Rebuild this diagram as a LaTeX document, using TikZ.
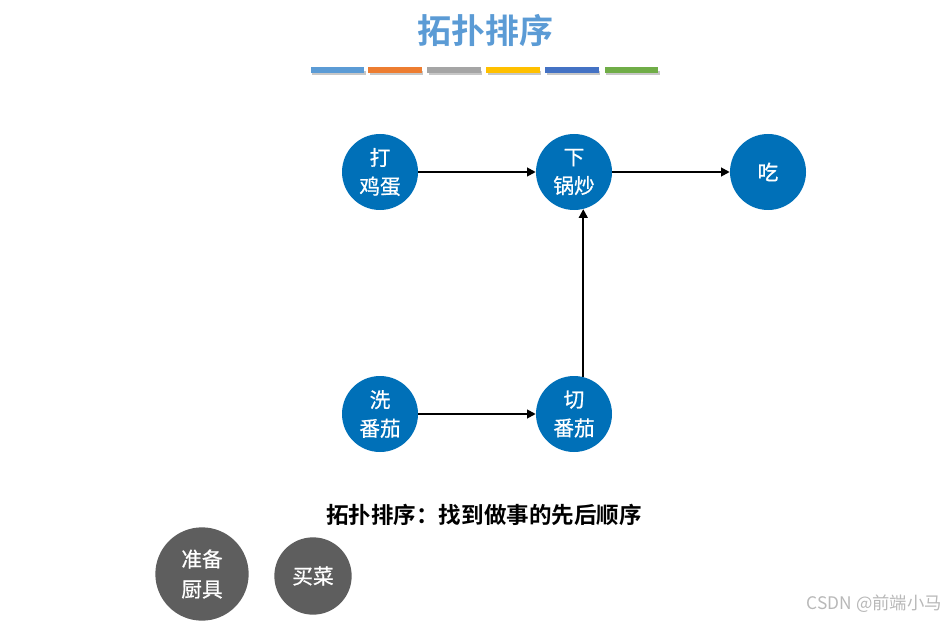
\documentclass[tikz,border=0pt]{standalone}
\usepackage{fontspec}
\setmainfont{Noto Sans CJK SC}
\newfontfamily\cjkb{Noto Sans CJK SC}[BoldFont=* Bold]
\newfontfamily\cjkm{Noto Sans CJK SC}[BoldFont={Noto Sans CJK SC}, BoldFeatures={FakeBold=0.7}]
\usetikzlibrary{arrows.meta}
\definecolor{nodeblue}{HTML}{0070B8}
\definecolor{nodegray}{HTML}{5E5E5E}
\definecolor{titleblue}{HTML}{5B9BD5}
\definecolor{barA}{HTML}{5B9BD5}
\definecolor{barB}{HTML}{ED7D31}
\definecolor{barC}{HTML}{A5A5A5}
\definecolor{barD}{HTML}{FFC000}
\definecolor{barE}{HTML}{4472C4}
\definecolor{barF}{HTML}{70AD47}
\tikzset{
  stepnode/.style={circle, fill=nodeblue, text=white, inner sep=0pt,
    minimum size=57pt, align=center, font=\cjkm\bfseries\fontsize{15.5pt}{21.5pt}\selectfont},
  graynode/.style={circle, fill=nodegray, text=white, inner sep=0pt,
    align=center, font=\cjkm\bfseries\fontsize{15.5pt}{22.5pt}\selectfont},
  arr/.style={-{Triangle[length=6.5pt,width=6.5pt]}, line width=1.4pt, black},
  bar/.style={inner sep=0pt, minimum width=40pt, minimum height=5pt},
}
\begin{document}
\begin{tikzpicture}[x=0.75pt, y=-0.75pt]
\useasboundingbox (0,0) rectangle (944,620);
% title
\node (title) at (485,31) {\cjkb\bfseries\fontsize{25.5pt}{30pt}\selectfont\color{titleblue}拓扑排序};
% colour bars with shadows
\foreach \x/\c [count=\i] in {337.5/barA, 395/barB, 454/barC, 513/barD, 572/barE, 631.5/barF}{
  \fill[black!22] (\x-25.5,71.5) rectangle (\x+28,75.5);
  \node[bar, fill=\c] (bar\i) at (\x,70) {};
}
% nodes
\node[stepnode] (dan) at (380,172) {打\\鸡蛋};
\node[stepnode] (xia) at (574,172) {下\\锅炒};
\node[stepnode] (chi) at (768,172) {吃};
\node[stepnode] (xi) at (380,414) {洗\\番茄};
\node[stepnode] (qie) at (574,414) {切\\番茄};
% arrows
\draw[arr] (dan) -- (xia);
\draw[arr] (xia) -- (chi);
\draw[arr] (xi) -- (qie);
\draw[arr] (qie.76) -- (xia.284);
% subtitle
\node (sub) at (484,515) {\cjkb\bfseries\fontsize{16.9pt}{20pt}\selectfont 拓扑排序：找到做事的先后顺序};
% gray nodes
\node[graynode, minimum size=70pt] (chuju) at (202,574) {准备\\厨具};
\node[graynode, minimum size=58pt] (maicai) at (313,576) {买菜};
% watermark
\node[anchor=east, text=black!28, font=\fontsize{13pt}{15pt}\selectfont, inner sep=0pt] (wm) at (942,604) {CSDN @前端小马};
\end{tikzpicture}
\end{document}
